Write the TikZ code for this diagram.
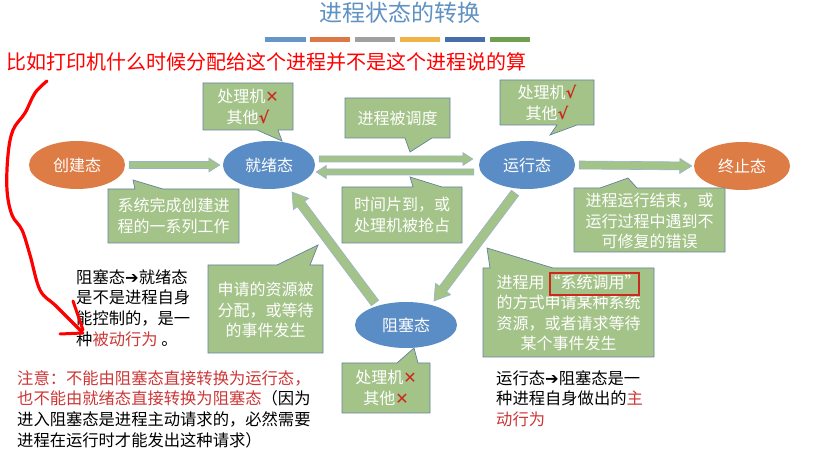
\documentclass[tikz,border=0pt]{standalone}
\usepackage{fontspec}
\setmainfont{Noto Sans CJK SC}
\newfontfamily\dejavu{DejaVu Sans}
\usetikzlibrary{shapes.geometric,calc}
\definecolor{titleblue}{RGB}{95,145,195}
\definecolor{barA}{RGB}{100,150,200}
\definecolor{barB}{RGB}{220,120,70}
\definecolor{barC}{RGB}{160,160,160}
\definecolor{barD}{RGB}{240,180,70}
\definecolor{barE}{RGB}{70,110,170}
\definecolor{barF}{RGB}{110,160,80}
\definecolor{ellorange}{RGB}{222,124,70}
\definecolor{ellblue}{RGB}{90,140,197}
\definecolor{calfill}{RGB}{164,195,137}
\definecolor{calline}{RGB}{100,130,160}
\definecolor{arrline}{RGB}{150,180,205}
\definecolor{markred}{RGB}{205,40,30}
\definecolor{notered}{RGB}{205,55,55}
\definecolor{handred}{RGB}{255,0,0}
\newcommand\crossmk{{\color{markred}\dejavu ✕}}
\newcommand\checkmk{{\color{markred}\dejavu\bfseries √}}
\newcommand\blockarrow[5]{%
  \path let \p1=#1, \p2=#2 in \pgfextra{%
    \pgfmathsetmacro\tmpA{atan2(\y2-\y1,\x2-\x1)}\global\let\baang\tmpA
    \pgfmathsetmacro\tmpL{veclen(\x2-\x1,\y2-\y1)}\global\let\balen\tmpL
    \xdef\bax{\x1}\xdef\bay{\y1}};
  \begin{scope}[shift={(\bax,\bay)},rotate=\baang]
    \draw[blockarr] (0,-#3) -- ({\balen-#5},-#3) -- ({\balen-#5},-#4) -- (\balen,0)
      -- ({\balen-#5},#4) -- ({\balen-#5},#3) -- (0,#3) -- cycle;
  \end{scope}}
\tikzset{
  callout/.style={fill=calfill, draw=calline, line width=0.7pt},
  blockarr/.style={fill=calfill, draw=arrline, line width=0.6pt},
  stateell/.style={ellipse, minimum width=96pt, minimum height=48pt, inner sep=0pt,
    text=white, font=\fontsize{16}{16}\selectfont},
  caltext/.style={text=white, align=center, font=\fontsize{16}{20.5}\selectfont, inner sep=0pt},
  plaintext/.style={anchor=north west, align=left, inner sep=0pt, font=\fontsize{16.3}{20.8}\selectfont},
}
\begin{document}
\begin{tikzpicture}[x=1pt,y=-1pt]
\useasboundingbox[fill=white] (0,0) rectangle (815,454);
% title and bars
\node[text=titleblue, font=\fontsize{23}{23}\selectfont, inner sep=0pt] (title) at (400,13) {进程状态的转换};
\fill[barA] (265,37) rectangle (306,42);
\fill[barB] (310,37) rectangle (350,42);
\fill[barC] (355,37) rectangle (395,42);
\fill[barD] (400,37) rectangle (440,42);
\fill[barE] (445,37) rectangle (485,42);
\fill[barF] (490,37) rectangle (530,42);
% top red remark
\node[text=handred, anchor=west, inner sep=0pt, font=\fontsize{20}{20}\selectfont] (remark) at (6,62) {比如打印机什么时候分配给这个进程并不是这个进程说的算};
% states
\node[stateell, fill=ellorange] (cj) at (77,165) {创建态};
\node[stateell, fill=ellblue, minimum width=92pt] (jx) at (269,165) {就绪态};
\node[stateell, fill=ellblue] (yx) at (527,165) {运行态};
\node[stateell, fill=ellorange] (zz) at (742,166) {终止态};
\node[stateell, fill=ellblue, minimum width=102pt, minimum height=46pt] (zs) at (406,325) {阻塞态};
% block arrows
\blockarrow{($(cj.east)+(4,0)$)}{($(jx.west)+(-3,0)$)}{3.5}{7}{11}
\blockarrow{($(jx.east)+(4,-6)$)}{($(yx.west)+(-6,-6)$)}{3}{6.5}{10}
\blockarrow{($(yx.west)+(-5,7)$)}{($(jx.east)+(1,7)$)}{3}{6.5}{10}
\blockarrow{($(yx.east)+(4,0)$)}{($(zz.west)+(-2,0)$)}{4}{7.5}{12}
\blockarrow{($(zs)+(-31,-22)$)}{($(jx)+(23,27)$)}{4.5}{9.5}{15}
\blockarrow{($(yx)+(-12,28)$)}{($(zs)+(28,-24)$)}{4.5}{9.5}{15}
% callouts
\draw[callout] (203,83) -- (293,83) -- (293,130) -- (278,130) -- (282,141) -- (257,130) -- (203,130) -- cycle;
\node[caltext] (c1) at (248,107) {处理机\crossmk\\其他\checkmk};
\draw[callout] (345,98) -- (450,98) -- (450,138) -- (432,138) -- (410,152) -- (405,138) -- (345,138) -- cycle;
\node[caltext] (c2) at (397.5,118) {进程被调度};
\draw[callout] (342,187) -- (413,187) -- (410,177) -- (442,187) -- (462,187) -- (462,243) -- (342,243) -- cycle;
\node[caltext] (c3) at (402,215) {时间片到，或\\处理机被抢占};
\draw[callout] (108,189) -- (135,189) -- (133,180) -- (163,189) -- (239,189) -- (239,243) -- (108,243) -- cycle;
\node[caltext] (c4) at (173.5,216) {系统完成创建进\\程的一系列工作};
\draw[callout] (500,80) -- (594,80) -- (594,125) -- (577,125) -- (550,135) -- (557,125) -- (500,125) -- cycle;
\node[caltext] (c5) at (547,103) {处理机\checkmk\\其他\checkmk};
\draw[callout] (574,188) -- (600,188) -- (628,178) -- (637,188) -- (725,188) -- (725,252) -- (574,252) -- cycle;
\node[caltext] (c6) at (649.5,221) {进程运行结束，或\\运行过程中遇到不\\可修复的错误};
\draw[callout] (208,265) -- (277,265) -- (318,245) -- (310,265) -- (323,265) -- (323,353) -- (208,353) -- cycle;
\node[caltext] (c7) at (265.5,310) {申请的资源被\\分配，或等待\\的事件发生};
\draw[callout] (483,268) -- (490,268) -- (487,248) -- (553,268) -- (654,268) -- (654,357) -- (483,357) -- cycle;
\node[caltext] (c8) at (568.5,313) {进程用“系统调用”\\的方式申请某种系统\\资源，或者请求等待\\某个事件发生};
\draw[markred, line width=1.6pt] (550,273) rectangle (639,295);
\draw[callout] (342,363) -- (397,363) -- (414,348) -- (418,363) -- (430,363) -- (430,413) -- (342,413) -- cycle;
\node[caltext] (c9) at (386,388) {处理机\crossmk\\其他\crossmk};
% explanatory texts
\node[plaintext] (t1) at (76,269) {阻塞态{\dejavu\bfseries ➔}就绪态\\是不是进程自身\\能控制的，是一\\种{\color{notered}被动行为} 。};
\node[plaintext] (t2) at (17,370) {{\color{notered}注意：不能由阻塞态直接转换为运行态，}\\{\color{notered}也不能由就绪态直接转换为阻塞态}（因为\\进入阻塞态是进程主动请求的，必然需要\\进程在运行时才能发出这种请求）};
\node[plaintext] (t3) at (496,370) {运行态{\dejavu\bfseries ➔}阻塞态是一\\种进程自身做出的{\color{notered}主}\\{\color{notered}动行为}};
% hand-drawn red arrow
\draw[handred, line width=3.2pt, line cap=round, line join=round]
  plot[smooth, tension=0.6] coordinates {(47,81) (35,93) (25,113) (13,130) (8,155) (7,190) (12,215) (22,230) (30,255) (40,290) (55,305) (70,320) (82,332)};
\draw[handred, line width=3pt, line cap=round] (73,301) -- (83,330);
\draw[handred, line width=3pt, line cap=round] (60,334) -- (83,333);
\end{tikzpicture}
\end{document}
